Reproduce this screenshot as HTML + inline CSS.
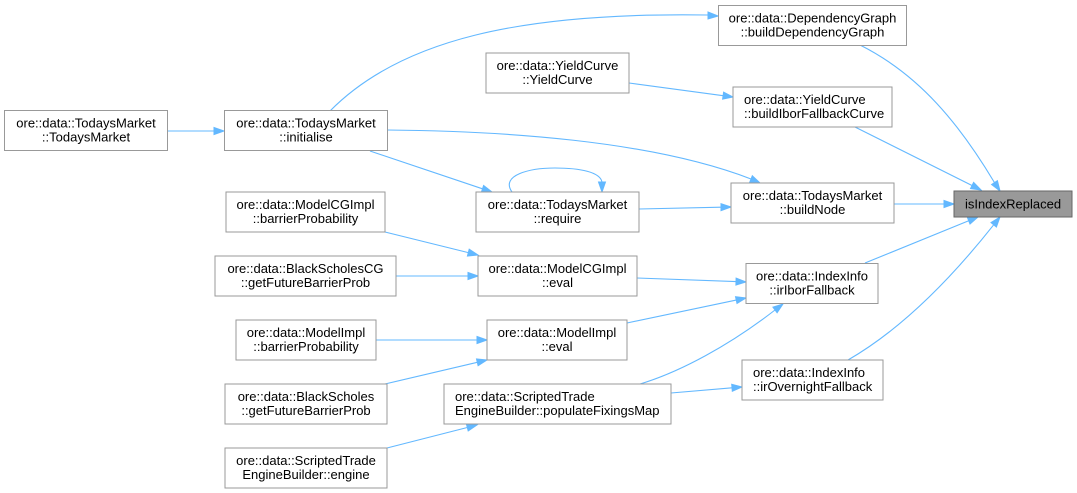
<!DOCTYPE html>
<html><head><meta charset="utf-8"><style>
html,body{margin:0;padding:0;background:#fff;}
svg{display:block;}
text{font-family:"Liberation Sans",Arial,sans-serif;font-size:13px;fill:#000;}
.n{fill:#fff;stroke:#999;stroke-width:1;}
.e{fill:none;stroke:#63b8ff;stroke-width:1.1;}
.a{fill:#63b8ff;stroke:#63b8ff;stroke-width:1;}
</style></head><body>
<svg width="1077" height="493" viewBox="0 0 1077 493" xmlns="http://www.w3.org/2000/svg">
<!-- edges -->
<path class="e" d="M168,131 L214,131"/><polygon class="a" points="224,131 214,127.5 214,134.5"/>
<path class="e" d="M330,111 C400,40 520,12 708,15"/><polygon class="a" points="718,16 708,12 708,19"/>
<path class="e" d="M387,130 C500,131 650,140 751,179"/><polygon class="a" points="760,183 752.3,175.8 749.7,182.3"/>
<path class="e" d="M370,151 L482.5,188.8"/><polygon class="a" points="492,192 481.4,192.1 483.6,185.5"/>
<path class="e" d="M512,192 C500,175 530,168 555,168 C580,168 600,172 602,182"/><polygon class="a" points="602,192 598.5,182 605.5,182"/>
<path class="e" d="M639,209 L721,207.2"/><polygon class="a" points="731,207 721,203.7 721,210.7"/>
<path class="e" d="M629,83 L723.1,95.7"/><polygon class="a" points="733,97 722.6,99.1 723.6,92.2"/>
<path class="e" d="M860,45 C920,75 960,125 994.5,182.6"/><polygon class="a" points="1000,191 991.6,184.5 997.4,180.7"/>
<path class="e" d="M855,127 L972,185.5"/><polygon class="a" points="981,190 970.5,188.6 973.6,182.4"/>
<path class="e" d="M894,204 L944,204"/><polygon class="a" points="954,204 944,200.5 944,207.5"/>
<path class="e" d="M865,263 L968.7,220.8"/><polygon class="a" points="978,217 970,224 967.4,217.5"/>
<path class="e" d="M848,360 C900,330 950,280 993.7,224.8"/><polygon class="a" points="1000,217 996.4,227 991,222.6"/>
<path class="e" d="M385,232 L468.3,252.6"/><polygon class="a" points="478,255 467.4,256 469.2,249.2"/>
<path class="e" d="M396,276 L468,276"/><polygon class="a" points="478,276 468,272.5 468,279.5"/>
<path class="e" d="M637,278 L736,281.6"/><polygon class="a" points="746,282 736.1,278.1 735.9,285.1"/>
<path class="e" d="M376,340 L477,340"/><polygon class="a" points="487,340 477,336.5 477,343.5"/>
<path class="e" d="M385,384 L477.3,362.3"/><polygon class="a" points="487,360 478.1,365.7 476.5,358.9"/>
<path class="e" d="M627,323 L736.2,300.1"/><polygon class="a" points="746,298 737,303.5 735.5,296.7"/>
<path class="e" d="M640,384 C680,372 730,345 775,310"/><polygon class="a" points="783,304 777.1,312.8 772.9,307.2"/>
<path class="e" d="M671,393 L732,387.8"/><polygon class="a" points="742,387 731.7,384.3 732.3,391.3"/>
<path class="e" d="M387,448 L467.3,427.5"/><polygon class="a" points="477,425 468.2,430.9 466.4,424.1"/>

<!-- nodes -->
<rect class="n" x="4.5" y="110.5" width="163" height="40"/>
<text x="86" y="127.7" text-anchor="middle">ore::data::TodaysMarket</text>
<text x="86" y="141.3" text-anchor="middle">::TodaysMarket</text>

<rect class="n" x="224.5" y="110.5" width="163" height="40"/>
<text x="306" y="127.7" text-anchor="middle">ore::data::TodaysMarket</text>
<text x="306" y="141.3" text-anchor="middle">::initialise</text>

<rect class="n" x="718.5" y="5.5" width="188" height="40"/>
<text x="812.5" y="22.7" text-anchor="middle">ore::data::DependencyGraph</text>
<text x="812.5" y="36.3" text-anchor="middle">::buildDependencyGraph</text>

<rect class="n" x="486" y="53" width="143" height="40"/>
<text x="557.5" y="70.2" text-anchor="middle">ore::data::YieldCurve</text>
<text x="557.5" y="83.8" text-anchor="middle">::YieldCurve</text>

<rect class="n" x="733" y="87" width="159" height="40"/>
<text x="744" y="104.2">ore::data::YieldCurve</text>
<text x="744" y="117.8">::buildIborFallbackCurve</text>

<rect class="n" x="476" y="192" width="163" height="40"/>
<text x="557.5" y="209.2" text-anchor="middle">ore::data::TodaysMarket</text>
<text x="557.5" y="222.8" text-anchor="middle">::require</text>

<rect class="n" x="731" y="183" width="163" height="40"/>
<text x="812.5" y="200.2" text-anchor="middle">ore::data::TodaysMarket</text>
<text x="812.5" y="213.8" text-anchor="middle">::buildNode</text>

<rect x="954" y="191" width="118" height="26" fill="#999999" stroke="#666666" stroke-width="1"/>
<text x="1013" y="208.5" text-anchor="middle">isIndexReplaced</text>

<rect class="n" x="226" y="192" width="159" height="40"/>
<text x="305.5" y="209.2" text-anchor="middle">ore::data::ModelCGImpl</text>
<text x="305.5" y="222.8" text-anchor="middle">::barrierProbability</text>

<rect class="n" x="215" y="256" width="181" height="40"/>
<text x="305.5" y="273.2" text-anchor="middle">ore::data::BlackScholesCG</text>
<text x="305.5" y="286.8" text-anchor="middle">::getFutureBarrierProb</text>

<rect class="n" x="478" y="256" width="159" height="40"/>
<text x="557.5" y="273.2" text-anchor="middle">ore::data::ModelCGImpl</text>
<text x="557.5" y="286.8" text-anchor="middle">::eval</text>

<rect class="n" x="236" y="320" width="140" height="40"/>
<text x="306" y="337.2" text-anchor="middle">ore::data::ModelImpl</text>
<text x="306" y="350.8" text-anchor="middle">::barrierProbability</text>

<rect class="n" x="487" y="320" width="140" height="40"/>
<text x="557" y="337.2" text-anchor="middle">ore::data::ModelImpl</text>
<text x="557" y="350.8" text-anchor="middle">::eval</text>

<rect class="n" x="225" y="384" width="162" height="40"/>
<text x="306" y="401.2" text-anchor="middle">ore::data::BlackScholes</text>
<text x="306" y="414.8" text-anchor="middle">::getFutureBarrierProb</text>

<rect class="n" x="444" y="384" width="227" height="40"/>
<text x="455" y="401.2">ore::data::ScriptedTrade</text>
<text x="455" y="414.8">EngineBuilder::populateFixingsMap</text>

<rect class="n" x="225" y="448" width="162" height="40"/>
<text x="306" y="465.2" text-anchor="middle">ore::data::ScriptedTrade</text>
<text x="306" y="478.8" text-anchor="middle">EngineBuilder::engine</text>

<rect class="n" x="746" y="263.5" width="132" height="40"/>
<text x="812" y="280.7" text-anchor="middle">ore::data::IndexInfo</text>
<text x="812" y="294.3" text-anchor="middle">::irIborFallback</text>

<rect class="n" x="742" y="360" width="141" height="40"/>
<text x="753" y="377.2">ore::data::IndexInfo</text>
<text x="753" y="390.8">::irOvernightFallback</text>
</svg>
</body></html>
